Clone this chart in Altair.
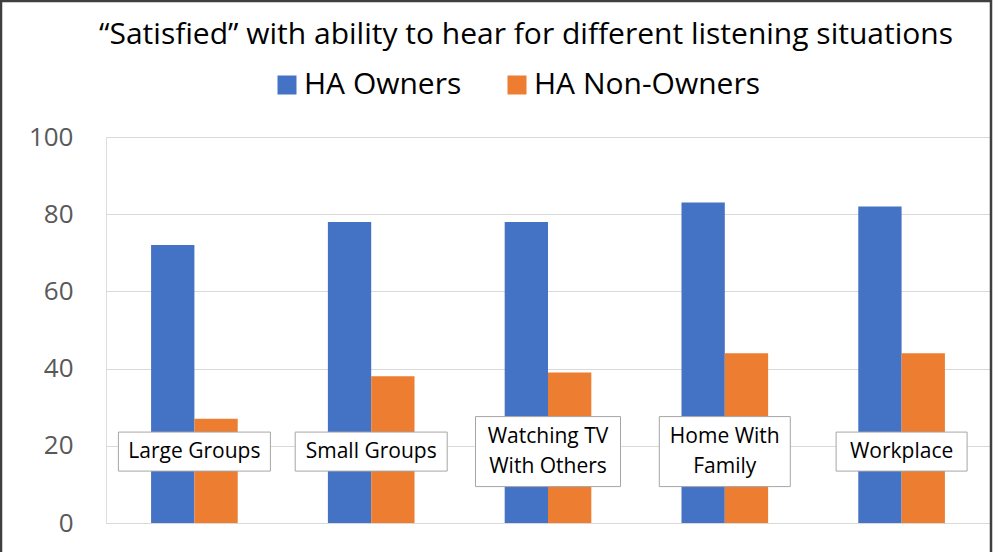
import altair as alt
import pandas as pd

categories = ["Large Groups", "Small Groups", "Watching TV With Others", "Home With Family", "Workplace"]
label_lines = ["Large Groups", "Small Groups", "Watching TV|With Others", "Home With|Family", "Workplace"]
owners = [72, 78, 78, 83, 82]
non_owners = [27, 38, 39, 44, 44]
series = ["HA Owners", "HA Non-Owners"]
colors = ["#4472C4", "#ED7D31"]
y_ticks = [0, 20, 40, 60, 80, 100]
title_text = "\u201cSatisfied\u201d with ability to hear for different listening situations"

rows = []
for c, o, n in zip(categories, owners, non_owners):
    rows.append({"cat": c, "series": series[0], "value": o})
    rows.append({"cat": c, "series": series[1], "value": n})
df = pd.DataFrame(rows)
labels_df = pd.DataFrame({"cat": categories, "label": label_lines})

W, H = 884, 386
FONT = "Open Sans"

x_enc = alt.X("cat:N", sort=categories, axis=None,
              scale=alt.Scale(paddingInner=0.51, paddingOuter=0.255))

bars = alt.Chart(df).mark_bar().encode(
    x=x_enc,
    xOffset=alt.XOffset("series:N", sort=series, scale=alt.Scale(paddingInner=0, paddingOuter=0)),
    y=alt.Y("value:Q", scale=alt.Scale(domain=[0, 100], nice=False),
            axis=alt.Axis(values=y_ticks, title=None, domain=False, ticks=False,
                          labelFont=FONT, labelFontSize=26, labelColor="#595959",
                          labelPadding=33, gridColor="#D9D9D9", gridWidth=1)),
    color=alt.Color("series:N", sort=series,
                    scale=alt.Scale(domain=series, range=colors),
                    legend=alt.Legend(title=None, orient="none", legendX=166, legendY=-67,
                                      direction="horizontal", symbolType="square",
                                      symbolSize=361, symbolStrokeWidth=0,
                                      labelFont=FONT, labelFontSize=30, labelColor="#000000",
                                      labelLimit=0, labelOffset=2, columnPadding=40, padding=0)),
)

base_lbl = alt.Chart(labels_df).transform_calculate(
    lines="split(datum.label, '|')",
).transform_calculate(
    nlines="length(datum.lines)",
    maxlen="max(length(datum.lines[0]), length(datum.nlines > 1 ? datum.lines[1] : ''))",
).transform_calculate(
    boxw="7 * datum.maxlen + 68",
    ylo="18.5 - (31 * datum.nlines + 8) / 2 / 3.86",
    yhi="18.5 + (31 * datum.nlines + 8) / 2 / 3.86",
    ytxt="18.5 + (datum.nlines - 1) * 15 / 3.86",
)

boxes = base_lbl.mark_bar(fill="white", stroke="#A6A6A6", strokeWidth=1).encode(
    x=x_enc,
    size=alt.Size("boxw:Q", scale=None, legend=None),
    y=alt.Y("ylo:Q"),
    y2="yhi:Q",
)

texts = base_lbl.mark_text(font=FONT, fontSize=21, color="#000000",
                           baseline="middle", align="center", lineHeight=30).encode(
    x=x_enc,
    y=alt.Y("ytxt:Q"),
    text="lines:N",
)

frame = alt.Chart(alt.Data(values=[{"a": 1}])).mark_rect(
    fill=None, stroke="#3F3F3F", strokeWidth=2.5
).encode(
    x=alt.value(-105), x2=alt.value(885), y=alt.value(-136), y2=alt.value(440)
)

chart = alt.layer(bars, boxes, texts, frame).properties(
    width=W, height=H,
    title=alt.TitleParams(title_text, font=FONT, fontSize=30, fontWeight="normal",
                          color="#000000", anchor="middle", dx=-22, dy=69, offset=19),
    autosize=alt.AutoSizeParams(type="none"),
    padding={"left": 106, "top": 137, "right": 3, "bottom": 29},
).configure_view(stroke=None).configure(background="white")

chart.save("out.html", embed_options={"renderer": "svg", "actions": False})
